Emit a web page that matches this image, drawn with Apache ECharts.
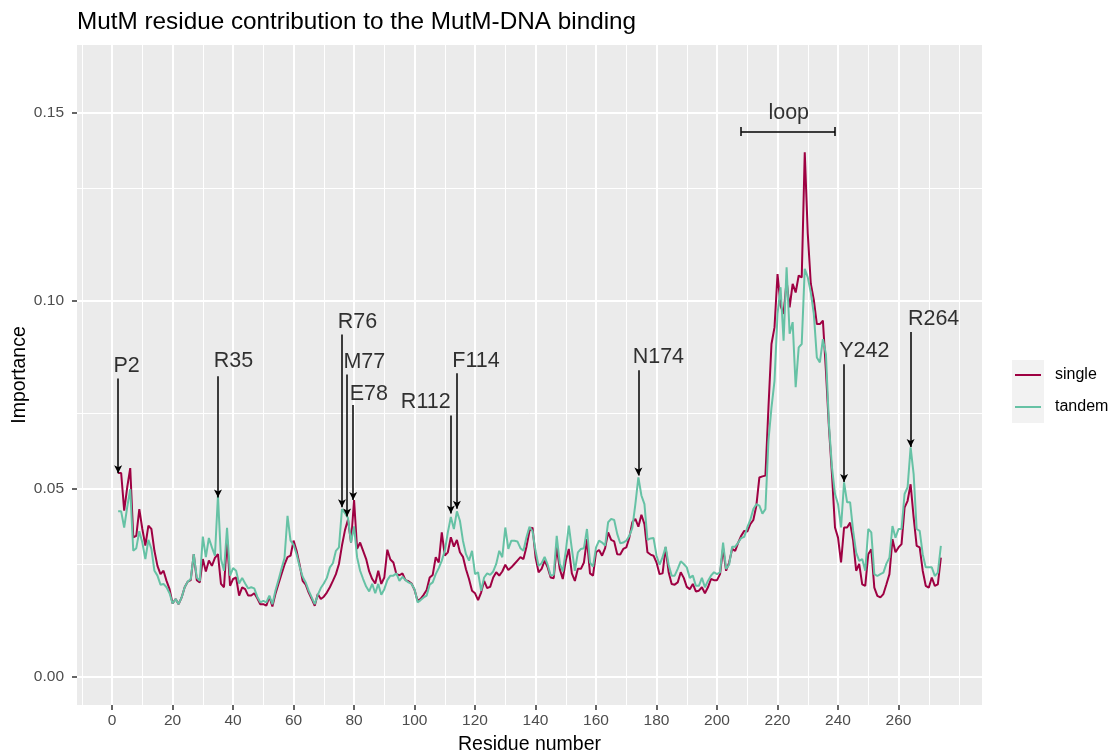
<!DOCTYPE html>
<html>
<head>
<meta charset="utf-8">
<title>MutM residue contribution</title>
<script src="https://cdn.jsdelivr.net/npm/echarts@6.0.0/dist/echarts.min.js"></script>
<style>
  html, body { margin: 0; padding: 0; background: #fff; }
  #chart { width: 1109px; height: 751px; }
</style>
</head>
<body>
<div id="chart"></div>
<script>
// residue numbers run from 2 to 274
const firstResidue = 2

const single = [
  0.0542, 0.0542, 0.0442, 0.0504, 0.0555, 0.0371, 0.0375, 0.0446, 0.0393, 0.0349, 0.0402, 0.0393, 0.0335, 0.0295, 0.0273, 0.0282,
  0.0255, 0.0233, 0.0195, 0.0207, 0.0193, 0.0211, 0.0238, 0.0253, 0.0257, 0.0326, 0.0257, 0.0251, 0.0313, 0.0280, 0.0309,
  0.0295, 0.0316, 0.0326, 0.0247, 0.0238, 0.0366, 0.0242, 0.0260, 0.0264, 0.0216, 0.0238, 0.0233, 0.0216, 0.0216, 0.0222, 0.0209,
  0.0193, 0.0193, 0.0189, 0.0213, 0.0187, 0.0220, 0.0247, 0.0273, 0.0298, 0.0318, 0.0322, 0.0362, 0.0335, 0.0298, 0.0255, 0.0245,
  0.0224, 0.0207, 0.0189,
  0.0220, 0.0207, 0.0213, 0.0224, 0.0238, 0.0255, 0.0273, 0.0300, 0.0349, 0.0390, 0.0418, 0.0357, 0.0470, 0.0340, 0.0357, 0.0335,
  0.0313, 0.0280, 0.0260, 0.0248, 0.0282, 0.0247, 0.0264, 0.0338, 0.0312, 0.0304, 0.0273, 0.0270, 0.0275, 0.0257, 0.0254, 0.0248,
  0.0231,
  0.0202, 0.0207, 0.0218, 0.0231, 0.0264, 0.0271, 0.0318, 0.0304, 0.0384, 0.0322, 0.0331, 0.0371, 0.0346, 0.0364, 0.0331, 0.0319,
  0.0286, 0.0260, 0.0229, 0.0222, 0.0204, 0.0224, 0.0255, 0.0236, 0.0239, 0.0264, 0.0278, 0.0269, 0.0280, 0.0298, 0.0284, 0.0291,
  0.0300, 0.0309, 0.0318, 0.0313,
  0.0346, 0.0388, 0.0397, 0.0318, 0.0278, 0.0287, 0.0309, 0.0291, 0.0264, 0.0262, 0.0344, 0.0287, 0.0260, 0.0309, 0.0340, 0.0275,
  0.0255, 0.0287, 0.0287, 0.0304, 0.0366, 0.0275, 0.0269, 0.0331, 0.0337, 0.0322, 0.0342, 0.0384, 0.0364, 0.0360, 0.0326, 0.0325,
  0.0340, 0.0344, 0.0370,
  0.0411, 0.0420, 0.0399, 0.0431, 0.0406, 0.0331, 0.0325, 0.0322, 0.0304, 0.0273, 0.0275, 0.0344, 0.0278, 0.0247, 0.0245, 0.0251,
  0.0278, 0.0263, 0.0239, 0.0233, 0.0247, 0.0227, 0.0229, 0.0238, 0.0222, 0.0238, 0.0260, 0.0257, 0.0257, 0.0273, 0.0342, 0.0282,
  0.0304,
  0.0340, 0.0335, 0.0357, 0.0375, 0.0388, 0.0386, 0.0406, 0.0417, 0.0455, 0.0530, 0.0533, 0.0535, 0.0716, 0.0885, 0.0929, 0.1071,
  0.0987, 0.0965, 0.1053, 0.0982, 0.1045, 0.1022, 0.1067, 0.1062, 0.1395, 0.1178, 0.1045, 0.1002, 0.0938, 0.0938, 0.0947, 0.0814,
  0.0663, 0.0539, 0.0397,
  0.0370, 0.0304, 0.0397, 0.0397, 0.0410, 0.0362, 0.0282, 0.0300, 0.0246, 0.0242, 0.0326, 0.0339, 0.0237, 0.0215, 0.0211, 0.0220,
  0.0246, 0.0273, 0.0366, 0.0331, 0.0344, 0.0353, 0.0450, 0.0468, 0.0512, 0.0424, 0.0348, 0.0344, 0.0282, 0.0242, 0.0237, 0.0264,
  0.0242, 0.0246, 0.0317
]

const tandem = [
  0.0440, 0.0440, 0.0397, 0.0451, 0.0499, 0.0335, 0.0342, 0.0387, 0.0357, 0.0313, 0.0364, 0.0340, 0.0282, 0.0269, 0.0245, 0.0247,
  0.0238, 0.0222, 0.0195, 0.0207, 0.0193, 0.0211, 0.0238, 0.0253, 0.0260, 0.0326, 0.0264, 0.0255, 0.0373, 0.0318, 0.0369,
  0.0344, 0.0322, 0.0482, 0.0313, 0.0282, 0.0396, 0.0269, 0.0289, 0.0282, 0.0248, 0.0263, 0.0248, 0.0235, 0.0238, 0.0235, 0.0213,
  0.0198, 0.0202, 0.0198, 0.0216, 0.0193, 0.0229, 0.0257, 0.0287, 0.0316, 0.0428, 0.0362, 0.0351, 0.0326, 0.0293, 0.0266, 0.0251,
  0.0229, 0.0211, 0.0193,
  0.0218, 0.0236, 0.0248, 0.0263, 0.0291, 0.0302, 0.0335, 0.0344, 0.0446, 0.0435, 0.0422, 0.0357, 0.0400, 0.0318, 0.0282, 0.0260,
  0.0240, 0.0227, 0.0247, 0.0222, 0.0247, 0.0218, 0.0233, 0.0257, 0.0269, 0.0269, 0.0275, 0.0255, 0.0266, 0.0257, 0.0251, 0.0247,
  0.0233,
  0.0198, 0.0204, 0.0211, 0.0216, 0.0245, 0.0251, 0.0273, 0.0289, 0.0309, 0.0335, 0.0384, 0.0425, 0.0393, 0.0440, 0.0415, 0.0362,
  0.0326, 0.0309, 0.0335, 0.0273, 0.0278, 0.0229, 0.0264, 0.0275, 0.0271, 0.0280, 0.0300, 0.0335, 0.0318, 0.0397, 0.0340, 0.0362,
  0.0362, 0.0360, 0.0342, 0.0335,
  0.0371, 0.0399, 0.0387, 0.0335, 0.0295, 0.0302, 0.0319, 0.0298, 0.0269, 0.0271, 0.0375, 0.0302, 0.0280, 0.0335, 0.0402, 0.0340,
  0.0282, 0.0331, 0.0340, 0.0342, 0.0393, 0.0304, 0.0293, 0.0344, 0.0362, 0.0357, 0.0349, 0.0411, 0.0420, 0.0417, 0.0380, 0.0355,
  0.0357, 0.0362, 0.0375,
  0.0396, 0.0459, 0.0530, 0.0482, 0.0459, 0.0364, 0.0368, 0.0369, 0.0322, 0.0298, 0.0318, 0.0346, 0.0298, 0.0269, 0.0269, 0.0287,
  0.0307, 0.0300, 0.0291, 0.0263, 0.0269, 0.0242, 0.0242, 0.0263, 0.0238, 0.0255, 0.0269, 0.0278, 0.0273, 0.0278, 0.0357, 0.0287,
  0.0298,
  0.0346, 0.0346, 0.0357, 0.0369, 0.0372, 0.0397, 0.0417, 0.0446, 0.0459, 0.0455, 0.0434, 0.0446, 0.0628, 0.0716, 0.0787, 0.0965,
  0.1036, 0.0894, 0.1089, 0.0912, 0.0943, 0.0770, 0.0876, 0.0885, 0.1085, 0.1062, 0.1022, 0.0965, 0.0849, 0.0836, 0.0898, 0.0858,
  0.0672, 0.0557, 0.0486,
  0.0459, 0.0397, 0.0517, 0.0464, 0.0464, 0.0388, 0.0330, 0.0308, 0.0313, 0.0282, 0.0393, 0.0384, 0.0273, 0.0268, 0.0273, 0.0277,
  0.0301, 0.0317, 0.0401, 0.0370, 0.0393, 0.0393, 0.0486, 0.0504, 0.0610, 0.0539, 0.0393, 0.0388, 0.0326, 0.0291, 0.0291, 0.0291,
  0.0268, 0.0277, 0.0348
]

// axis breaks
const xMajor = [0, 20, 40, 60, 80, 100, 120, 140, 160, 180, 200, 220, 240, 260]
const xMinor = [-10, 10, 30, 50, 70, 90, 110, 130, 150, 170, 190, 210, 230, 250, 270, 280]
const yMajor = [0, 0.05, 0.1, 0.15]
const yMinor = [0.025, 0.075, 0.125]

// highlighted residues: arrow from top value down to tip value
const arrowX = [2, 35, 76, 77.7, 79.7, 112, 114, 174, 242, 264]
const arrowTop = [0.0793, 0.0799, 0.0910, 0.0804, 0.0723, 0.0695, 0.0807, 0.0815, 0.0831, 0.0917]
const arrowTip = [0.0541, 0.0477, 0.0451, 0.0426, 0.0470, 0.0434, 0.0447, 0.0535, 0.0518, 0.0611]
const labelText = ['P2', 'R35', 'R76', 'M77', 'E78', 'R112', 'F114', 'N174', 'Y242', 'R264', 'loop']
const labelX = [4.8, 40.1, 81.1, 83.4, 84.9, 103.7, 120.3, 180.6, 248.7, 271.6, 223.7]
const labelY = [0.0825, 0.0839, 0.0943, 0.0836, 0.0753, 0.0730, 0.0840, 0.0849, 0.0866, 0.0950, 0.1500]
// loop bracket
const loopFrom = 208
const loopTo = 239
const loopY = 0.145
const loopCap = 0.0012

const font = 'Liberation Sans, Arial, Helvetica, sans-serif'

let singleData = single.map((v, i) => [firstResidue + i, v])
let tandemData = tandem.map((v, i) => [firstResidue + i, v])

let gridLines = []
xMajor.forEach((v) => gridLines.push({ xAxis: v, lineStyle: { width: 2 } }))
xMinor.forEach((v) => gridLines.push({ xAxis: v, lineStyle: { width: 1 } }))
yMajor.forEach((v) => gridLines.push({ yAxis: v, lineStyle: { width: 2 } }))
yMinor.forEach((v) => gridLines.push({ yAxis: v, lineStyle: { width: 1 } }))

let arrows = arrowX.map((x, i) => [
  { coord: [x, arrowTop[i]], symbol: 'none' },
  { coord: [x, arrowTip[i]], symbol: 'arrow' },
])
arrows.push([{ coord: [loopFrom, loopY], symbol: 'none' }, { coord: [loopTo, loopY], symbol: 'none' }])
arrows.push([{ coord: [loopFrom, loopY - loopCap], symbol: 'none' }, { coord: [loopFrom, loopY + loopCap], symbol: 'none' }])
arrows.push([{ coord: [loopTo, loopY - loopCap], symbol: 'none' }, { coord: [loopTo, loopY + loopCap], symbol: 'none' }])

let labels = labelText.map((t, i) => [labelX[i], labelY[i], t])

var myChart = echarts.init(document.getElementById('chart'))
var option = {
  animation: false,
  textStyle: { fontFamily: font },
  title: {
    text: 'MutM residue contribution to the MutM-DNA binding',
    left: 77,
    top: 10,
    padding: 0,
    textStyle: { fontSize: 24.3, fontWeight: 'normal', color: '#000', fontFamily: font },
  },
  legend: {
    data: ['single', 'tandem'],
    orient: 'vertical',
    left: 1015,
    top: 367,
    padding: 0,
    icon: 'rect',
    itemWidth: 26,
    itemHeight: 2,
    itemGap: 16,
    textStyle: { fontSize: 16, color: '#000', padding: [0, 0, 0, 9], fontFamily: font },
  },
  graphic: [
    {
      type: 'rect',
      left: 1012,
      top: 360,
      z: 0,
      shape: { width: 32, height: 63 },
      style: { fill: '#F2F2F2' },
    },
  ],
  grid: {
    left: 77,
    right: 127,
    top: 45,
    bottom: 46,
    outerBoundsMode: 'none',
    show: true,
    backgroundColor: '#EBEBEB',
    borderWidth: 0,
  },
  xAxis: {
    type: 'value',
    min: -11.6,
    max: 287.6,
    name: 'Residue number',
    nameLocation: 'middle',
    nameGap: 30,
    nameMoveOverlap: false,
    nameTextStyle: { fontSize: 19.5, color: '#000', fontFamily: font },
    axisLine: { show: false, onZero: false },
    axisTick: { show: true, length: 5, customValues: xMajor, lineStyle: { color: '#333333', width: 1.5 } },
    axisLabel: {
      customValues: xMajor,
      margin: 8,
      fontSize: 15.5,
      color: '#4D4D4D',
      fontFamily: font,
      formatter: (v) => String(v),
    },
    splitLine: { show: false },
  },
  yAxis: {
    type: 'value',
    min: -0.0075,
    max: 0.168,
    name: 'Importance',
    nameLocation: 'middle',
    nameGap: 47,
    nameMoveOverlap: false,
    nameTextStyle: { fontSize: 19.5, color: '#000', fontFamily: font },
    axisLine: { show: false, onZero: false },
    axisTick: { show: true, length: 5, customValues: yMajor, lineStyle: { color: '#333333', width: 1.5 } },
    axisLabel: {
      customValues: yMajor,
      margin: 13,
      fontSize: 15.5,
      color: '#4D4D4D',
      fontFamily: font,
      formatter: (v) => v.toFixed(2),
    },
    splitLine: { show: false },
  },
  series: [
    {
      name: 'grid',
      type: 'line',
      data: [],
      silent: true,
      markLine: {
        silent: true,
        z: 1,
        symbol: ['none', 'none'],
        label: { show: false },
        lineStyle: { color: '#FFFFFF', type: 'solid' },
        data: gridLines,
      },
    },
    {
      name: 'single',
      type: 'line',
      data: singleData,
      showSymbol: false,
      symbol: 'none',
      z: 2,
      color: '#9E0142',
      lineStyle: { width: 2, color: '#9E0142' },
    },
    {
      name: 'tandem',
      type: 'line',
      data: tandemData,
      showSymbol: false,
      symbol: 'none',
      z: 3,
      color: '#66C2A5',
      lineStyle: { width: 2, color: '#66C2A5' },
    },
    {
      name: 'notes',
      type: 'scatter',
      data: labels,
      symbolSize: 0,
      silent: true,
      z: 6,
      label: {
        show: true,
        position: 'inside',
        formatter: (p) => p.data[2],
        fontSize: 21.5,
        color: '#000',
        fontFamily: font,
      },
      markLine: {
        silent: true,
        symbolSize: [6, 8],
        label: { show: false },
        lineStyle: { color: '#000', type: 'solid', width: 1.5 },
        itemStyle: { color: '#000' },
        data: arrows,
      },
    },
  ],
}
myChart.setOption(option)
</script>
</body>
</html>
